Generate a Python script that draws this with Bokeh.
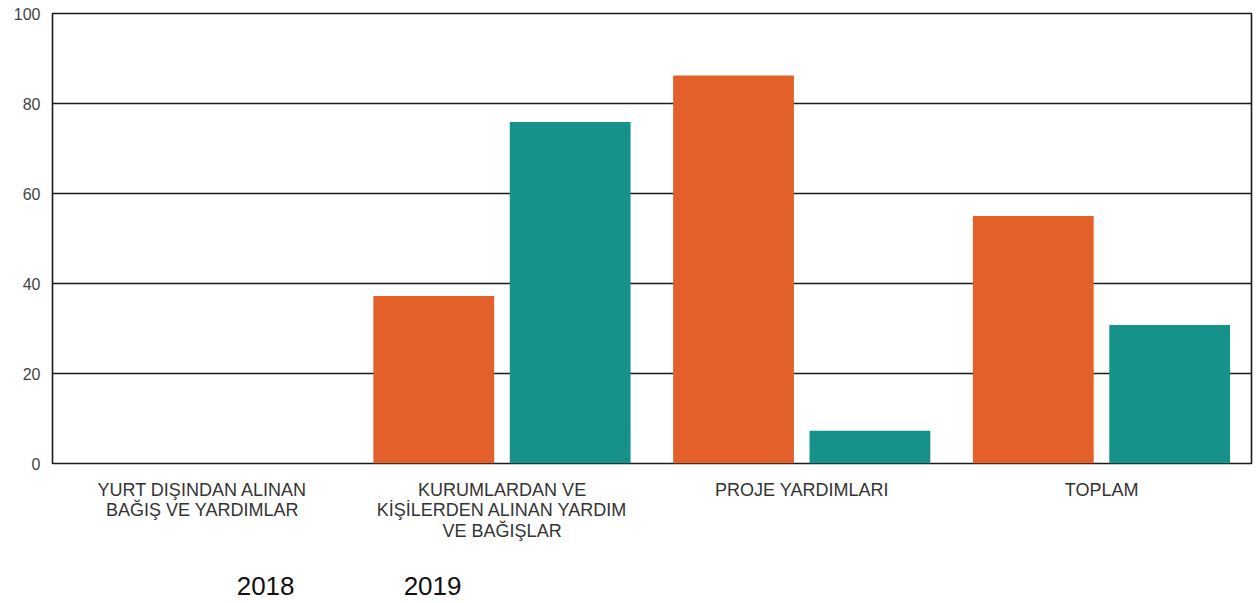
from bokeh.plotting import figure
from bokeh.models import FactorRange, ColumnDataSource, Range1d
from bokeh.layouts import column
from bokeh.transform import dodge
from bokeh.core.properties import value
from bokeh.embed import file_html
from bokeh.resources import INLINE

categories = ["YURT DIŞINDAN ALINAN\nBAĞIŞ VE YARDIMLAR",
              "KURUMLARDAN VE\nKİŞİLERDEN ALINAN YARDIM\nVE BAĞIŞLAR",
              "PROJE YARDIMLARI",
              "TOPLAM"]
series_names = ["2018", "2019"]
values_2018 = [0, 37.2, 86.2, 55.0]
values_2019 = [0, 75.9, 7.3, 30.8]
y_ticks = [0, 20, 40, 60, 80, 100]

orange = "#E4602A"
teal = "#17928B"

W = 1255
src = ColumnDataSource(dict(cat=categories, y18=values_2018, y19=values_2019))

p = figure(x_range=FactorRange(*categories, range_padding=0), y_range=Range1d(0, 100),
           width=W, height=475, output_backend="svg", toolbar_location=None,
           min_border_left=52, min_border_right=4, min_border_top=13, min_border_bottom=12)

p.vbar(x=dodge("cat", -0.228, range=p.x_range), top="y18", width=0.403, source=src,
       fill_color=orange, line_color=None)
p.vbar(x=dodge("cat", 0.227, range=p.x_range), top="y19", width=0.403, source=src,
       fill_color=teal, line_color=None)

p.outline_line_color = "#1a1a1a"
p.outline_line_width = 1.6
p.xgrid.grid_line_color = None
p.ygrid.grid_line_color = "#1a1a1a"
p.ygrid.grid_line_width = 1.6
p.yaxis.ticker = y_ticks
p.yaxis.axis_line_color = None
p.yaxis.major_tick_line_color = None
p.yaxis.major_tick_out = 0
p.yaxis.major_tick_in = 0
p.yaxis.minor_tick_line_color = None
p.yaxis.major_label_standoff = 12
p.yaxis.major_label_text_font = "Liberation Sans"
p.yaxis.major_label_text_font_size = "16px"
p.yaxis.major_label_text_color = "#444444"
p.xaxis.visible = False

# lower strip: category labels and series names (shares the x scale)
H2 = 125
q = figure(x_range=p.x_range, y_range=Range1d(0, H2), width=W, height=H2,
           output_backend="svg", toolbar_location=None,
           min_border_left=52, min_border_right=4, min_border_top=0, min_border_bottom=0)
q.axis.visible = False
q.grid.grid_line_color = None
q.outline_line_color = None

lab_src = ColumnDataSource(dict(cat=categories, y=[H2 - 4.0] * len(categories)))
q.text(x="cat", y="y", text="cat", source=lab_src, text_align="center", text_baseline="top",
       text_font=value("Liberation Sans"), text_font_size="18px", text_color="#333333",
       text_line_height=1.03)

leg_src = ColumnDataSource(dict(x=[0.711, 1.268], y=[14.5, 14.5], name=series_names))
q.text(x="x", y="y", text="name", source=leg_src, text_align="center",
       text_baseline="middle", text_font=value("Liberation Sans"),
       text_font_size="26px", text_color="#111111")

layout = column(p, q, spacing=0)
open("out.html", "w").write(file_html(layout, INLINE))
